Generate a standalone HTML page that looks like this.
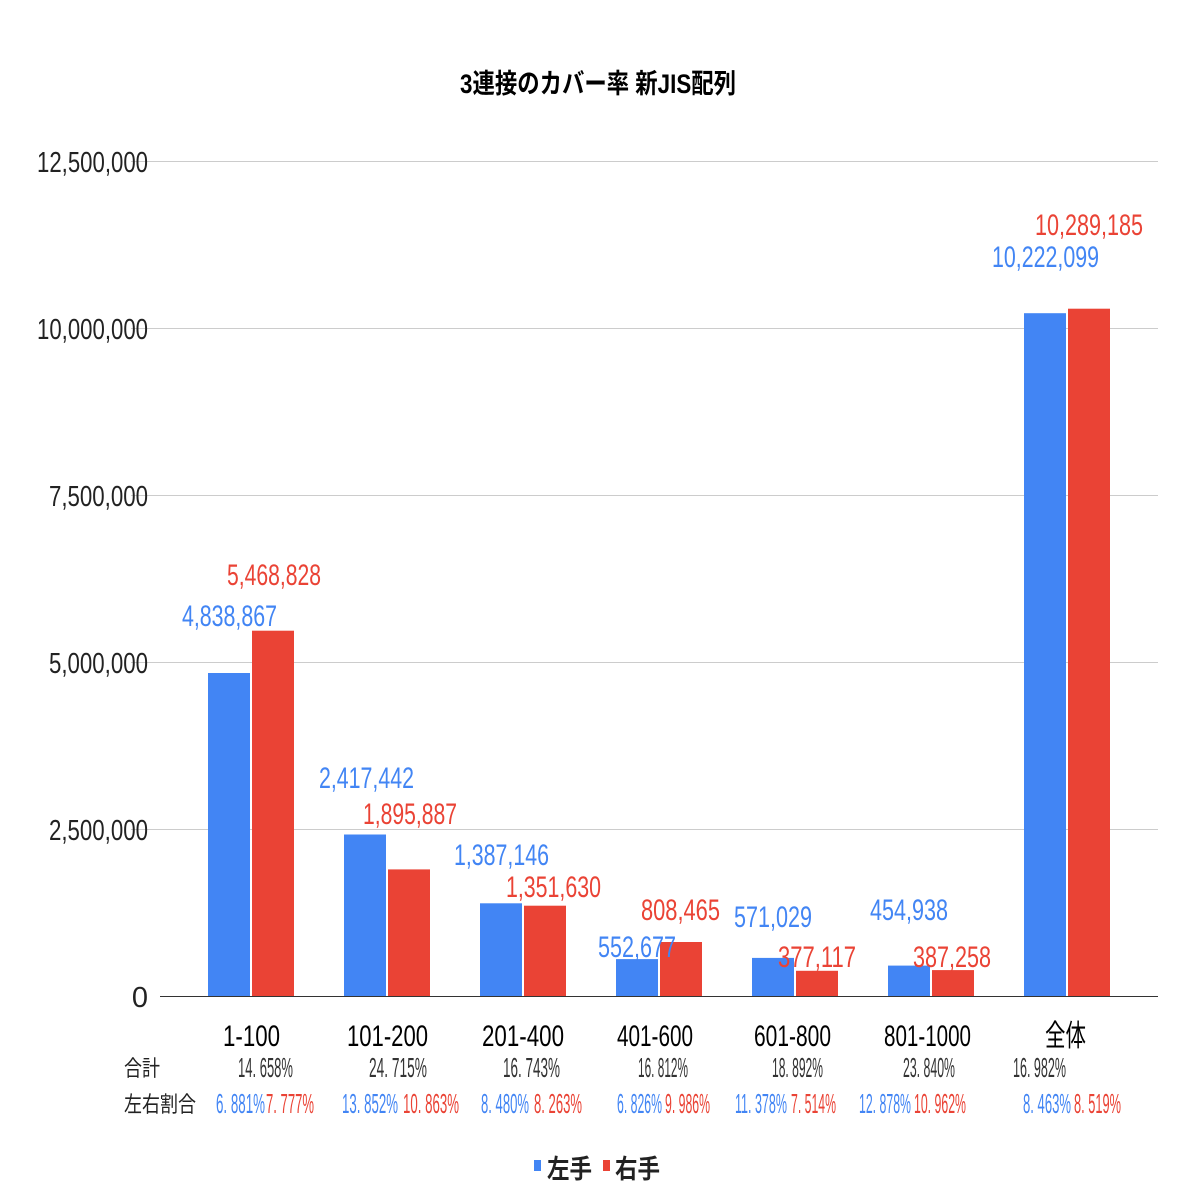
<!DOCTYPE html>
<html><head><meta charset="utf-8"><style>body{margin:0;background:#fff}svg{display:block}text{font-family:"Liberation Sans","Noto Sans CJK JP",sans-serif}</style></head><body>
<svg width="1196" height="1196" viewBox="0 0 1196 1196" xmlns="http://www.w3.org/2000/svg">
<rect width="1196" height="1196" fill="#fff"/>
<text x="460" y="93" font-size="27" font-weight="bold" textLength="276" lengthAdjust="spacingAndGlyphs" fill="#000">3連接のカバー率 新JIS配列</text>
<g stroke="#ccc" stroke-width="1">
<line x1="131" y1="161.5" x2="1158" y2="161.5"/><line x1="131" y1="328.5" x2="1158" y2="328.5"/><line x1="131" y1="495.5" x2="1158" y2="495.5"/><line x1="131" y1="662.5" x2="1158" y2="662.5"/><line x1="131" y1="829.5" x2="1158" y2="829.5"/>
</g>
<g font-size="29" fill="#222" text-anchor="end">
<text x="148" y="172" textLength="111" lengthAdjust="spacingAndGlyphs">12,500,000</text>
<text x="148" y="339" textLength="111" lengthAdjust="spacingAndGlyphs">10,000,000</text>
<text x="148" y="506" textLength="99" lengthAdjust="spacingAndGlyphs">7,500,000</text>
<text x="148" y="673" textLength="99" lengthAdjust="spacingAndGlyphs">5,000,000</text>
<text x="148" y="840" textLength="99" lengthAdjust="spacingAndGlyphs">2,500,000</text>
<text x="148" y="1007">0</text>
</g>
<g fill="#4285f4">
<rect x="208" y="673" width="42" height="323"/><rect x="344" y="834.5" width="42" height="161.5"/><rect x="480" y="903.3" width="42" height="92.7"/><rect x="616" y="959.1" width="42" height="36.9"/><rect x="752" y="957.9" width="42" height="38.1"/><rect x="888" y="965.6" width="42" height="30.4"/><rect x="1024" y="313.2" width="42" height="682.8"/>
</g>
<g fill="#ea4335">
<rect x="252" y="630.7" width="42" height="365.3"/><rect x="388" y="869.4" width="42" height="126.6"/><rect x="524" y="905.7" width="42" height="90.3"/><rect x="660" y="942" width="42" height="54"/><rect x="796" y="970.8" width="42" height="25.2"/><rect x="932" y="970.1" width="42" height="25.9"/><rect x="1068" y="308.7" width="42" height="687.3"/>
</g>
<line x1="160" y1="996.5" x2="1158" y2="996.5" stroke="#333" stroke-width="1"/>
<g font-size="30">
<text x="182" y="626" fill="#4285f4" textLength="95" lengthAdjust="spacingAndGlyphs">4,838,867</text>
<text x="227" y="585" fill="#ea4335" textLength="94" lengthAdjust="spacingAndGlyphs">5,468,828</text>
<text x="319" y="788" fill="#4285f4" textLength="95" lengthAdjust="spacingAndGlyphs">2,417,442</text>
<text x="363" y="824" fill="#ea4335" textLength="94" lengthAdjust="spacingAndGlyphs">1,895,887</text>
<text x="454" y="865" fill="#4285f4" textLength="95" lengthAdjust="spacingAndGlyphs">1,387,146</text>
<text x="506" y="897" fill="#ea4335" textLength="95" lengthAdjust="spacingAndGlyphs">1,351,630</text>
<text x="598" y="957" fill="#4285f4" textLength="78" lengthAdjust="spacingAndGlyphs">552,677</text>
<text x="641" y="920" fill="#ea4335" textLength="79" lengthAdjust="spacingAndGlyphs">808,465</text>
<text x="734" y="927" fill="#4285f4" textLength="78" lengthAdjust="spacingAndGlyphs">571,029</text>
<text x="778" y="967" fill="#ea4335" textLength="78" lengthAdjust="spacingAndGlyphs">377,117</text>
<text x="870" y="920" fill="#4285f4" textLength="78" lengthAdjust="spacingAndGlyphs">454,938</text>
<text x="913" y="967" fill="#ea4335" textLength="78" lengthAdjust="spacingAndGlyphs">387,258</text>
<text x="992" y="267" fill="#4285f4" textLength="107" lengthAdjust="spacingAndGlyphs">10,222,099</text>
<text x="1035" y="235" fill="#ea4335" textLength="108" lengthAdjust="spacingAndGlyphs">10,289,185</text>
</g>
<g font-size="30" fill="#000">
<text x="223" y="1046" textLength="57" lengthAdjust="spacingAndGlyphs">1-100</text>
<text x="347" y="1046" textLength="81" lengthAdjust="spacingAndGlyphs">101-200</text>
<text x="482" y="1046" textLength="82" lengthAdjust="spacingAndGlyphs">201-400</text>
<text x="617" y="1046" textLength="76" lengthAdjust="spacingAndGlyphs">401-600</text>
<text x="754" y="1046" textLength="77" lengthAdjust="spacingAndGlyphs">601-800</text>
<text x="884" y="1046" textLength="87" lengthAdjust="spacingAndGlyphs">801-1000</text>
<text x="1045" y="1046" textLength="41" lengthAdjust="spacingAndGlyphs">全体</text>
</g>
<g font-size="22" fill="#222">
<text x="124" y="1076" textLength="36" lengthAdjust="spacingAndGlyphs">合計</text>
<text x="124" y="1112" textLength="72" lengthAdjust="spacingAndGlyphs">左右割合</text>
</g>
<g font-size="28" fill="#333">
<text x="238" y="1077" textLength="55" lengthAdjust="spacingAndGlyphs">14. 658%</text>
<text x="369" y="1077" textLength="58" lengthAdjust="spacingAndGlyphs">24. 715%</text>
<text x="503" y="1077" textLength="57" lengthAdjust="spacingAndGlyphs">16. 743%</text>
<text x="638" y="1077" textLength="50" lengthAdjust="spacingAndGlyphs">16. 812%</text>
<text x="772" y="1077" textLength="51" lengthAdjust="spacingAndGlyphs">18. 892%</text>
<text x="903" y="1077" textLength="52" lengthAdjust="spacingAndGlyphs">23. 840%</text>
<text x="1013" y="1077" textLength="53" lengthAdjust="spacingAndGlyphs">16. 982%</text>
</g>
<g font-size="28">
<text x="216" y="1113" fill="#4285f4" textLength="49" lengthAdjust="spacingAndGlyphs">6. 881%</text>
<text x="266" y="1113" fill="#ea4335" textLength="48" lengthAdjust="spacingAndGlyphs">7. 777%</text>
<text x="342" y="1113" fill="#4285f4" textLength="56" lengthAdjust="spacingAndGlyphs">13. 852%</text>
<text x="403" y="1113" fill="#ea4335" textLength="56" lengthAdjust="spacingAndGlyphs">10. 863%</text>
<text x="481" y="1113" fill="#4285f4" textLength="48" lengthAdjust="spacingAndGlyphs">8. 480%</text>
<text x="534" y="1113" fill="#ea4335" textLength="48" lengthAdjust="spacingAndGlyphs">8. 263%</text>
<text x="617" y="1113" fill="#4285f4" textLength="45" lengthAdjust="spacingAndGlyphs">6. 826%</text>
<text x="665" y="1113" fill="#ea4335" textLength="45" lengthAdjust="spacingAndGlyphs">9. 986%</text>
<text x="735" y="1113" fill="#4285f4" textLength="52" lengthAdjust="spacingAndGlyphs">11. 378%</text>
<text x="791" y="1113" fill="#ea4335" textLength="45" lengthAdjust="spacingAndGlyphs">7. 514%</text>
<text x="859" y="1113" fill="#4285f4" textLength="52" lengthAdjust="spacingAndGlyphs">12. 878%</text>
<text x="914" y="1113" fill="#ea4335" textLength="52" lengthAdjust="spacingAndGlyphs">10. 962%</text>
<text x="1023" y="1113" fill="#4285f4" textLength="48" lengthAdjust="spacingAndGlyphs">8. 463%</text>
<text x="1074" y="1113" fill="#ea4335" textLength="47" lengthAdjust="spacingAndGlyphs">8. 519%</text>
</g>
<rect x="534" y="1160" width="7" height="11" fill="#4285f4"/>
<text x="547" y="1178" font-size="26" font-weight="bold" fill="#222" textLength="45" lengthAdjust="spacingAndGlyphs">左手</text>
<rect x="603" y="1160" width="7" height="11" fill="#ea4335"/>
<text x="615" y="1178" font-size="26" font-weight="bold" fill="#222" textLength="45" lengthAdjust="spacingAndGlyphs">右手</text>
</svg>
</body></html>
